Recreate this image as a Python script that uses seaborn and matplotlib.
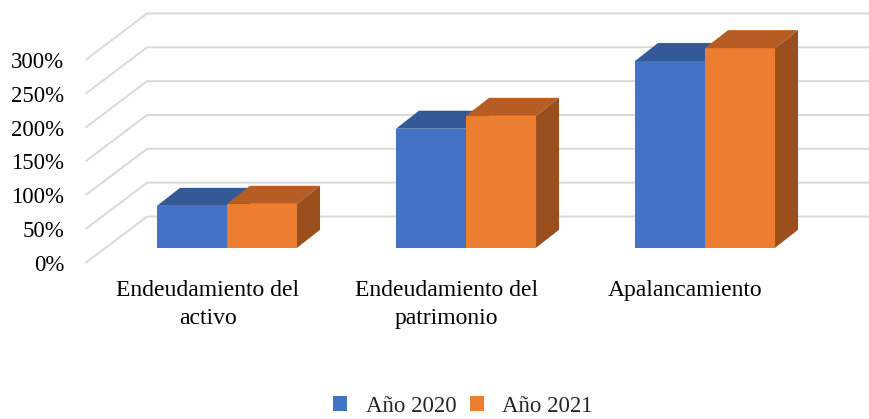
import matplotlib
matplotlib.use('Agg')
import matplotlib.pyplot as plt
import matplotlib.transforms as mtransforms
from matplotlib.patches import Polygon, Patch
import pandas as pd
import seaborn as sns

# data
categories = ['Endeudamiento del\nactivo', 'Endeudamiento del\npatrimonio', 'Apalancamiento']
years = ['Año 2020', 'Año 2021']
values_2020 = [62, 176, 276]
values_2021 = [65, 195, 295]
y_ticks = [0, 50, 100, 150, 200, 250, 300]
y_tick_labels = ['0%', '50%', '100%', '150%', '200%', '250%', '300%']

front_colors = ['#4472C4', '#ED7D31']
top_colors = ['#335A96', '#B55D22']
side_colors = ['#2E5087', '#9A4F1D']
grid_color = '#D9D9D9'

df = pd.DataFrame({
    'categoria': categories * 2,
    'anio': [years[0]] * len(categories) + [years[1]] * len(categories),
    'valor': values_2020 + values_2021,
})

sns.set_style('white')
plt.rcParams['font.family'] = ['Liberation Serif', 'DejaVu Serif']

fig = plt.figure(figsize=(8.69, 4.19), dpi=100)
ax = fig.add_axes([0, 0, 1, 1])
sns.barplot(data=df, x='categoria', y='valor', hue='anio', palette=front_colors,
            width=0.586, saturation=1, linewidth=0, legend=False, ax=ax)
ax.set_xlim(-0.9498, 2.6862)
ax.set_ylim(-253.0, 366.2)
ax.axis('off')

# pixel -> data scale
p0 = ax.transData.transform((0, 0))
p1 = ax.transData.transform((1, 100))
sx = p1[0] - p0[0]
sy = (p1[1] - p0[1]) / 100.0

# 3d offsets (pixels) relative to the bar front plane
front_off = (-19.5 / sx, -14.7 / sy)
back_off = (41.5 / sx, 31.3 / sy)
bar_depth = (23.0 / sx, 18.0 / sy)

# walls: diagonal lines on the side wall, horizontal on the back wall
x_left = -0.508
x_right = 2.8
for v, lab in zip(y_ticks, y_tick_labels):
    xs = [x_left + front_off[0], x_left + back_off[0], x_right]
    ys = [v + front_off[1], v + back_off[1], v + back_off[1]]
    ax.plot(xs, ys, color=grid_color, lw=1.4, zorder=0, clip_on=False)
    ax.text(x_left + front_off[0] - 22 / sx, v + front_off[1] - 3 / sy, lab,
            ha='right', va='center', fontsize=16.5, color='black')

# bar tops and sides
dx, dy = bar_depth
for level, cont in enumerate(ax.containers):
    for bar in cont:
        x = bar.get_x()
        w = bar.get_width()
        h = bar.get_height()
        bar.set_zorder(2 + level)
        top = Polygon([(x, h), (x + w, h), (x + w + dx, h + dy), (x + dx, h + dy)],
                      closed=True, facecolor=top_colors[level], edgecolor='none',
                      zorder=2.5 + level)
        side = Polygon([(x + w, 0), (x + w + dx, dy), (x + w + dx, h + dy), (x + w, h)],
                       closed=True, facecolor=side_colors[level], edgecolor='none',
                       zorder=2.5 + level)
        ax.add_patch(top)
        ax.add_patch(side)

# category labels on the front edge of the floor
trans = mtransforms.blended_transform_factory(ax.transData, fig.transFigure)
for i, name in enumerate(categories):
    ax.text(i + front_off[0], 1 - 280 / 419, name, transform=trans,
            ha='center', va='top', multialignment='center', fontsize=17,
            linespacing=1.43, color='black')

handles = [Patch(facecolor=c, edgecolor='none') for c in front_colors]
fig.legend(handles, years, loc='center', bbox_to_anchor=(463 / 869, 1 - 406 / 419),
           ncol=2, frameon=False, fontsize=16.5, handlelength=0.6, handleheight=0.6,
           handletextpad=0.8, columnspacing=0.6)

fig.savefig('out.png', dpi=100)
